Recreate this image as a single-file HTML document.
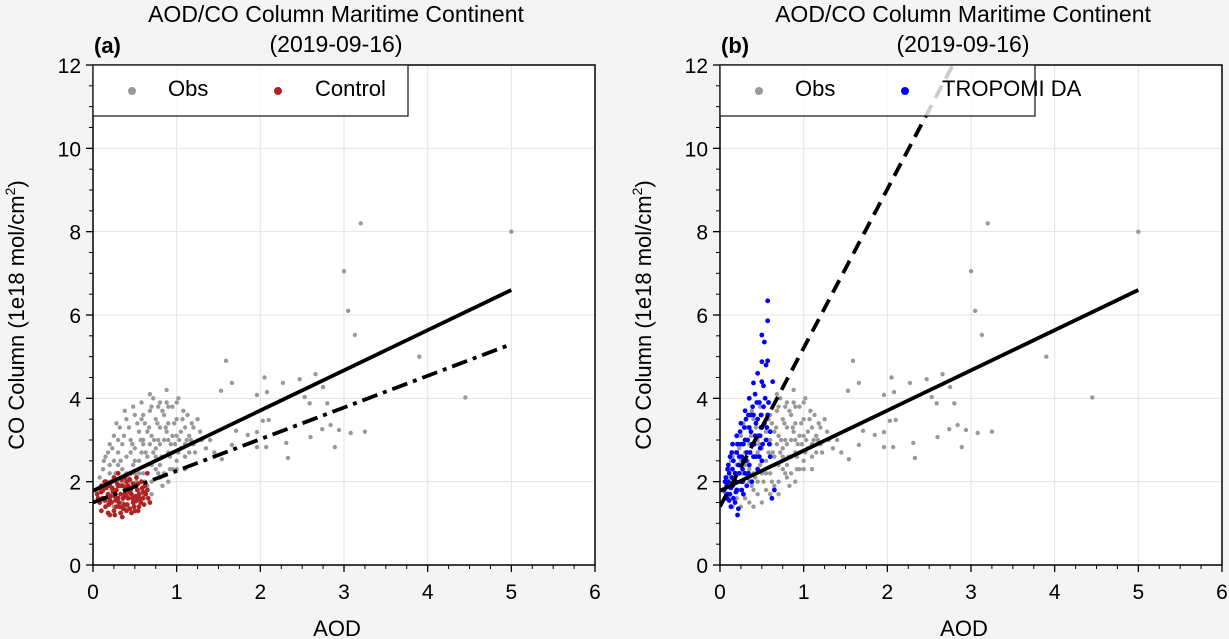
<!DOCTYPE html>
<html><head><meta charset="utf-8"><style>
html,body{margin:0;padding:0;background:#f4f4f4;}
svg{display:block;font-family:"Liberation Sans",sans-serif;}
</style></head><body>
<svg id="fig" width="1229" height="639" viewBox="0 0 1229 639"></svg>
<script>
const xTicks=[0,1,2,3,4,5,6];
const yTicks=[0,2,4,6,8,10,12];
const obsXa=[0.05,0.08,0.1,0.12,0.15,0.15,0.18,0.2,0.2,0.22,0.25,0.25,0.28,0.3,0.3,0.32,0.35,0.35,0.38,0.4,0.4,0.42,0.45,0.45,0.48,0.5,0.5,0.52,0.55,0.55,0.58,0.6,0.6,0.62,0.65,0.65,0.68,0.7,0.7,0.72,0.75,0.75,0.78,0.8,0.8,0.82,0.85,0.85,0.88,0.9,0.9,0.92,0.95,0.95,0.98,1.0,1.0,1.02,1.05,1.05,1.08,1.1,1.1,1.12,1.15,1.18,1.2,1.25,1.3,1.35,0.3,0.4,0.5,0.6,0.7,0.8,0.9,1.0,0.2,0.35,0.55,0.45,0.65,0.75,0.85,0.15,0.25,0.58,0.68,0.78,0.88,0.62,0.72,0.92,1.02,1.15,0.83,0.95,0.5,0.4,
1.59,1.66,1.53,1.96,2.05,2.08,2.27,2.47,2.66,2.75,2.53,2.59,2.8,3.13,2.03,2.1,1.71,1.85,1.96,2.07,1.96,2.33,2.31,2.6,2.74,2.84,2.94,2.89,3.08,1.66,1.54,3.05,3.0,3.2,5.0,3.9,4.45,3.25];
const obsYa=[1.75,2.1,1.6,2.3,1.9,2.6,1.5,2.2,2.9,1.8,2.5,3.1,2.0,2.7,1.6,3.3,2.3,2.9,1.9,3.5,2.6,2.1,3.0,1.7,2.4,3.6,2.8,2.0,3.2,2.5,3.9,2.9,2.2,3.4,2.6,1.9,3.7,3.1,2.4,4.0,2.8,3.5,2.2,3.3,3.9,2.6,3.0,3.6,4.2,2.7,3.4,2.3,3.1,3.8,2.9,3.5,2.5,4.0,3.2,2.8,3.7,2.6,3.3,3.0,2.7,3.4,2.9,3.5,3.0,2.8,2.4,1.8,2.2,3.0,2.0,2.4,3.0,3.1,1.6,1.5,1.8,2.7,3.2,2.6,2.2,1.4,1.4,2.7,2.9,3.0,3.2,2.0,2.7,2.6,2.7,3.1,1.9,2.3,1.5,1.4,
4.9,4.37,4.18,4.08,4.5,4.15,4.37,4.46,4.58,4.27,4.03,3.88,3.88,5.52,3.46,3.48,3.22,3.12,3.19,2.83,2.83,2.57,2.93,3.07,3.26,3.36,3.24,2.83,3.17,2.88,2.54,6.1,7.05,8.2,8.0,5.0,4.02,3.2];
const obsXb=[0.1,0.13,0.17,0.2,0.23,0.27,0.3,0.33,0.37,0.4,0.43,0.47,0.5,0.53,0.57,0.6,0.63,0.67,0.7,0.73,0.77,0.8,0.83,0.87,0.9,0.93,0.97,1.0,1.03,1.07,1.1,1.13,1.17,1.2,1.22,1.28,1.4,1.45,0.45,0.55,0.65,0.75,0.85,0.95,0.35,0.25,0.6,0.7,0.8,0.9,1.0,1.1,0.18,0.28,0.38,0.48,0.58,0.68,0.78,0.88];
const obsYb=[1.9,2.5,2.0,2.4,2.8,2.2,3.0,2.5,3.1,2.2,3.3,2.9,2.5,3.4,3.0,3.6,2.7,3.3,3.8,3.0,3.4,2.9,3.7,3.3,3.8,2.9,3.4,3.9,3.0,3.5,2.9,3.6,3.0,3.3,2.7,3.2,3.0,2.7,2.0,2.2,2.4,2.3,2.6,2.7,2.0,1.8,1.7,1.7,2.1,2.0,2.3,2.3,2.7,3.4,3.7,3.8,3.5,4.1,3.8,3.9];
const ctlXa=[0.05,0.08,0.1,0.1,0.12,0.15,0.15,0.18,0.2,0.2,0.22,0.25,0.25,0.28,0.3,0.3,0.32,0.35,0.35,0.38,0.4,0.4,0.42,0.45,0.45,0.48,0.5,0.5,0.52,0.55,0.55,0.58,0.6,0.62,0.65,0.68,0.65,0.12,0.22,0.28,0.33,0.38,0.42,0.47,0.53,0.57,0.18,0.27,0.37,0.43,0.08,0.24,0.34,0.44,0.52,0.6,0.3,0.2,0.4,0.48];
const ctlYa=[1.7,1.5,1.9,1.3,1.6,2.0,1.4,1.7,1.2,1.9,1.5,2.1,1.3,1.8,1.6,2.2,1.4,1.9,1.15,1.7,2.0,1.3,1.6,2.2,1.8,1.5,1.9,1.3,2.1,1.7,1.4,2.0,1.6,1.9,1.8,1.5,2.2,1.8,2.0,1.4,1.7,2.1,1.9,1.6,1.8,1.5,1.25,1.55,1.45,1.75,1.85,1.75,2.05,1.35,1.55,1.75,1.9,1.55,1.65,1.95];
const ctlXb=[0.06,0.1,0.14,0.16,0.19,0.21,0.23,0.26,0.29,0.31,0.33,0.36,0.39,0.41,0.44,0.46,0.49,0.51,0.54,0.56,0.59,0.61,0.63,0.66,0.14,0.26,0.32,0.36,0.46,0.54];
const ctlYb=[1.6,1.75,1.55,1.85,1.45,1.65,1.85,1.65,1.95,1.5,1.25,1.6,1.85,1.45,2.05,1.7,1.4,1.65,1.95,1.6,1.85,1.45,1.7,1.6,2.0,1.2,1.9,1.35,1.25,1.3];
const daXa=[0.05,0.07,0.08,0.1,0.1,0.12,0.12,0.15,0.15,0.15,0.18,0.18,0.2,0.2,0.2,0.22,0.22,0.25,0.25,0.25,0.28,0.28,0.3,0.3,0.3,0.32,0.32,0.35,0.35,0.35,0.38,0.38,0.4,0.4,0.42,0.42,0.45,0.45,0.47,0.48,0.5,0.5,0.5,0.52,0.55,0.55,0.57,0.6,0.6,0.57,0.57,0.5,0.53,0.5,0.57,0.4,0.63,0.21,0.65,0.62,0.13,0.17,0.27,0.33,0.43,0.48,0.37,0.23,0.08,0.14,0.45,0.52];
const daYa=[1.8,2.1,1.6,2.0,2.4,1.7,2.6,1.9,2.3,2.9,1.5,2.2,2.7,3.1,1.8,2.4,1.35,2.0,2.9,3.4,2.5,1.7,3.0,2.2,3.7,2.7,1.9,3.3,2.4,4.0,2.9,2.0,3.6,2.6,3.1,4.1,2.3,3.5,3.9,2.8,3.3,4.4,2.5,3.8,3.0,4.8,3.6,2.6,3.2,6.34,5.86,5.52,5.35,4.88,4.9,4.37,4.4,1.2,1.8,1.6,1.4,2.0,2.3,2.1,2.6,3.1,3.6,2.6,1.9,2.1,4.6,4.3];
const daXb=[0.06,0.09,0.11,0.13,0.16,0.19,0.21,0.23,0.24,0.26,0.29,0.31,0.33,0.34,0.36,0.37,0.39,0.41,0.43,0.44,0.46,0.47,0.49,0.51,0.53,0.54,0.56,0.58,0.59,0.11,0.16,0.19,0.26,0.14,0.27,0.09,0.34,0.31,0.28,0.49];
const daYb=[2.0,1.7,2.2,1.85,2.5,2.0,2.9,2.2,3.2,2.6,3.3,2.5,3.0,3.6,2.7,3.2,3.8,2.9,3.4,3.9,3.1,2.6,3.6,2.9,3.4,4.0,3.3,3.9,2.9,1.55,1.6,1.75,1.8,2.7,2.0,2.3,2.2,3.5,2.9,3.3];
const obsX=obsXa.concat(obsXb), obsY=obsYa.concat(obsYb);
const ctlX=ctlXa.concat(ctlXb), ctlY=ctlYa.concat(ctlYb);
const daX=daXa.concat(daXb), daY=daYa.concat(daYb);
const fitObs=[1.78,0.964];
const fitCtl=[1.5,0.76];
const fitDA=[1.4,3.81];

const NS="http://www.w3.org/2000/svg";
const svg=document.getElementById('fig');
function mk(tag,attrs,parent){const e=document.createElementNS(NS,tag);for(const k in attrs)e.setAttribute(k,attrs[k]);(parent||svg).appendChild(e);return e;}
const Y0=565,YT=65,PXU=(565-65)/12;
function panel(ox,label,modelName,modelColor,mX,mY,fit,dash,id){
  const W=502,PX=W/6;
  const sx=v=>ox+v*PX, sy=v=>Y0-v*PXU;
  const g=mk('g',{});
  
  
  const bg=mk('rect',{x:ox,y:YT,width:W,height:Y0-YT,fill:'#fff'},g);
  
  const clip=mk('clipPath',{id:'clip'+id},g);mk('rect',{x:ox,y:YT,width:W,height:Y0-YT},clip);
  xTicks.forEach(t=>{const l=mk('line',{x1:sx(t),x2:sx(t),y1:YT,y2:Y0,stroke:'#e3e3e3','stroke-width':1},g);});
  yTicks.forEach(t=>{const l=mk('line',{x1:ox,x2:ox+W,y1:sy(t),y2:sy(t),stroke:'#e3e3e3','stroke-width':1},g);});
  const pts=mk('g',{'clip-path':'url(#clip'+id+')'},g);
  for(let i=0;i<obsX.length;i++){const c=mk('circle',{cx:sx(obsX[i]),cy:sy(obsY[i]),r:2.2,fill:'#999'},pts);}
  for(let i=0;i<mX.length;i++){const c=mk('circle',{cx:sx(mX[i]),cy:sy(mY[i]),r:2.4,fill:modelColor},pts);}
  const l1=mk('line',{x1:sx(0),y1:sy(fitObs[0]),x2:sx(5),y2:sy(fitObs[0]+5*fitObs[1]),stroke:'#000','stroke-width':3.8},pts);
  
  const xe=Math.min(5,(12.9-fit[0])/fit[1]);
  const l2=mk('line',{x1:sx(0),y1:sy(fit[0]),x2:sx(xe),y2:sy(fit[0]+xe*fit[1]),stroke:'#000','stroke-width':3.8,'stroke-dasharray':dash},pts);
  
  const fr=mk('rect',{x:ox,y:YT,width:W,height:Y0-YT,fill:'none',stroke:'#000','stroke-width':1.5},g);
  
  xTicks.forEach(t=>{mk('line',{x1:sx(t),x2:sx(t),y1:Y0,y2:Y0+7,stroke:'#000','stroke-width':1.3},g);
    const tx=mk('text',{x:sx(t),y:599,'text-anchor':'middle','font-size':21},g);tx.textContent=t;});
  for(let v=0.25;v<6;v+=0.25){if(v%1) mk('line',{x1:sx(v),x2:sx(v),y1:Y0,y2:Y0+4,stroke:'#000','stroke-width':1},g);}
  yTicks.forEach(t=>{mk('line',{x1:ox-7,x2:ox,y1:sy(t),y2:sy(t),stroke:'#000','stroke-width':1.3},g);
    const tx=mk('text',{x:ox-12,y:sy(t)+8,'text-anchor':'end','font-size':21},g);tx.textContent=t;});
  for(let v=0.5;v<12;v+=0.5){if(v%2) mk('line',{x1:ox-4,x2:ox,y1:sy(v),y2:sy(v),stroke:'#000','stroke-width':1},g);}
  const xl=mk('text',{x:ox+W/2-7,y:636,'text-anchor':'middle','font-size':22},g);xl.textContent='AOD';
  
  const yl=mk('text',{x:0,y:0,'text-anchor':'middle','font-size':22,transform:`translate(${ox-69},315) rotate(-90)`},g);
  yl.innerHTML='CO Column (1e18 mol/cm<tspan dy="-9" font-size="14">2</tspan><tspan dy="9">)</tspan>';
  
  const t1=mk('text',{x:ox+W/2-8,y:22,'text-anchor':'middle','font-size':23},g);t1.textContent='AOD/CO Column Maritime Continent';
  
  const t2=mk('text',{x:ox+W/2-8,y:52,'text-anchor':'middle','font-size':23},g);t2.textContent='(2019-09-16)';
  
  const pl=mk('text',{x:ox+1,y:53,'font-size':22,'font-weight':'bold'},g);pl.textContent=label;
  
  const lg=mk('g',{},g);
  mk('rect',{x:ox,y:YT,width:315,height:51,fill:'#fff','fill-opacity':0.8,stroke:'#222','stroke-width':1.3},lg);
  const c1=mk('circle',{cx:ox+39,cy:91,r:4,fill:'#999'},lg);
  const e1=mk('text',{x:ox+75,y:96,'font-size':22},lg);e1.textContent='Obs';
  const c2=mk('circle',{cx:ox+185,cy:91,r:4,fill:modelColor},lg);
  const e2=mk('text',{x:ox+222,y:96,'font-size':22},lg);e2.textContent=modelName;
}
panel(93,'(a)','Control','#b22222',ctlX,ctlY,fitCtl,'16 6 4 6','a');
panel(720,'(b)','TROPOMI DA','#0000ff',daX,daY,fitDA,'14 8','b');
</script>
</body></html>
